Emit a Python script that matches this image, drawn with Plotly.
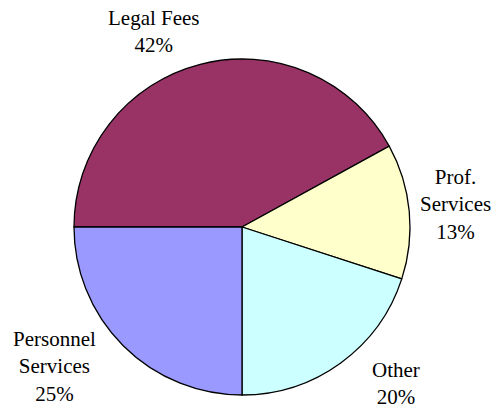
import plotly.graph_objects as go

categories = ["Legal Fees", "Prof.<br>Services", "Other", "Personnel<br>Services"]
values = [42, 13, 20, 25]
colors = ["#993366", "#FFFFCC", "#CCFFFF", "#9999FF"]

W, H = 496, 411
# label block centers in pixels
label_pos = [(154, 31), (455, 205), (396, 383), (54, 366)]

fig = go.Figure(go.Pie(
    labels=categories, values=values, sort=False, direction="clockwise",
    rotation=270, textinfo="none", hoverinfo="label+percent",
    marker=dict(colors=colors, line=dict(color="black", width=1.3)),
    domain=dict(x=[74 / W, 410 / W], y=[1 - 395 / H, 1 - 59 / H]),
    showlegend=False,
))

total = sum(values)
for cat, v, (px, py) in zip(categories, values, label_pos):
    fig.add_annotation(
        x=px / W, y=1 - py / H, xref="paper", yref="paper",
        text=f"{cat}<br>{round(100 * v / total)}%", showarrow=False,
        xanchor="center", yanchor="middle",
        font=dict(family="Liberation Serif, Times New Roman, serif", size=21, color="black"),
    )

fig.update_layout(
    width=W, height=H, margin=dict(l=0, r=0, t=0, b=0),
    paper_bgcolor="white", plot_bgcolor="white",
)
fig.write_html("out.html", config={"displayModeBar": False},
               post_script="document.body.style.margin='0';document.body.style.overflow='hidden';")
